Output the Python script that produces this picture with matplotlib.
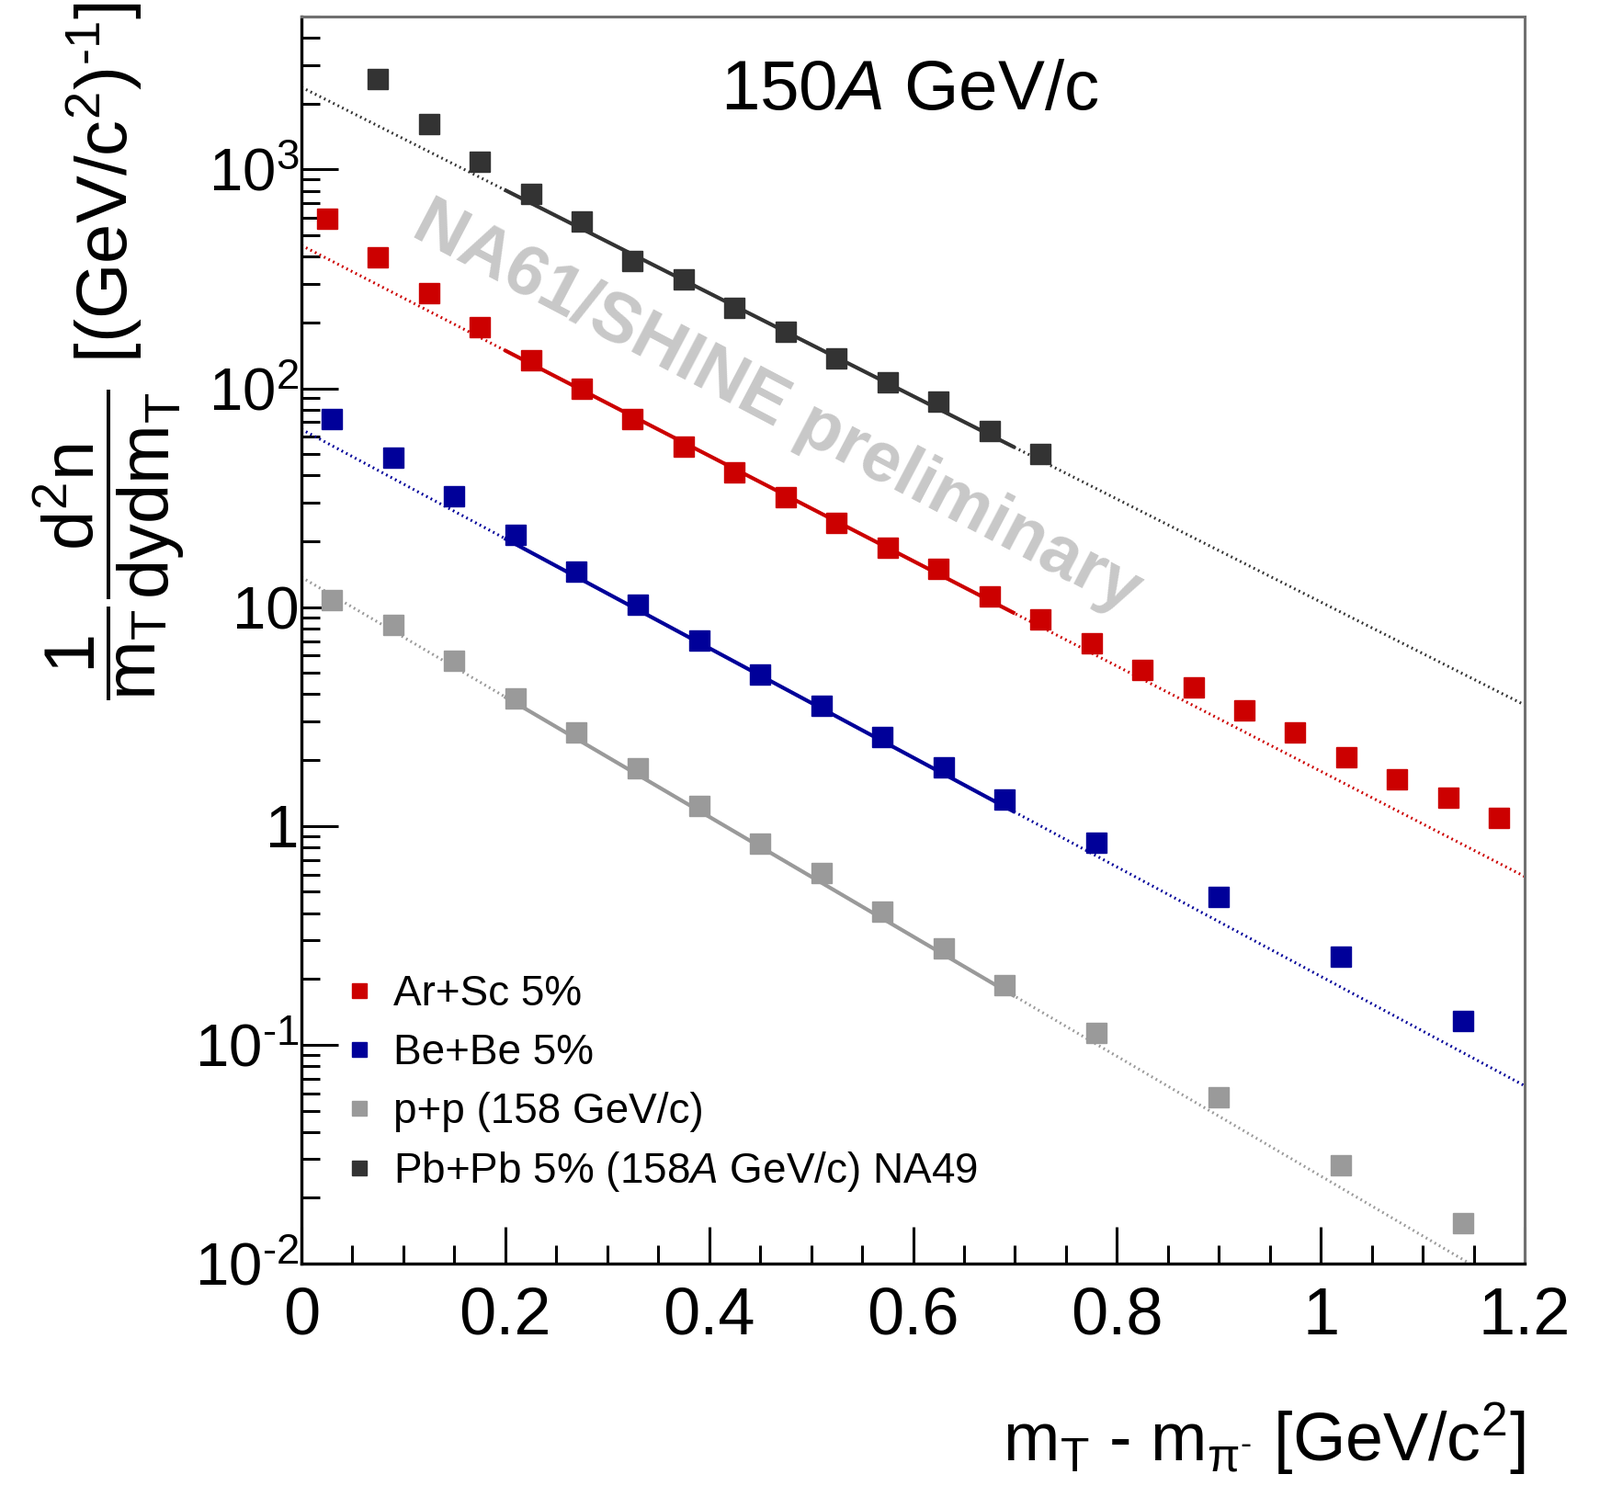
import numpy as np
import matplotlib
matplotlib.use('Agg')
import matplotlib.pyplot as plt
from matplotlib.ticker import FixedLocator, LogLocator, MultipleLocator, NullFormatter, FixedFormatter

plt.rcParams['font.family'] = ['Liberation Sans', 'DejaVu Sans']
plt.rcParams['mathtext.fontset'] = 'custom'
plt.rcParams['mathtext.rm'] = 'Liberation Sans'
plt.rcParams['mathtext.it'] = 'Liberation Sans:italic'
plt.rcParams['mathtext.bf'] = 'Liberation Sans:bold'

# m_T - m_pi spectra
x_arsc = [0.025, 0.075, 0.125, 0.175, 0.225, 0.275, 0.325, 0.375, 0.425, 0.475, 0.525, 0.575,
          0.625, 0.675, 0.725, 0.775, 0.825, 0.875, 0.925, 0.975, 1.025, 1.075, 1.125, 1.175]
y_arsc = [596, 396, 272, 191, 135, 100, 72.5, 54.2, 41.4, 31.7, 24.2, 18.7,
          14.9, 11.2, 8.82, 6.81, 5.15, 4.30, 3.36, 2.68, 2.07, 1.63, 1.35, 1.09]

x_bebe = [0.03, 0.09, 0.15, 0.21, 0.27, 0.33, 0.39, 0.45, 0.51, 0.57, 0.63, 0.69, 0.78, 0.90, 1.02, 1.14]
y_bebe = [72.5, 48.2, 32.1, 21.5, 14.6, 10.3, 7.04, 4.94, 3.54, 2.56, 1.86, 1.32, 0.839, 0.475, 0.252, 0.128]

x_pp = [0.03, 0.09, 0.15, 0.21, 0.27, 0.33, 0.39, 0.45, 0.51, 0.57, 0.63, 0.69, 0.78, 0.90, 1.02, 1.14]
y_pp = [10.8, 8.27, 5.67, 3.81, 2.67, 1.84, 1.23, 0.830, 0.608, 0.405, 0.275, 0.187, 0.113, 0.0573, 0.0282, 0.0153]

x_pbpb = [0.075, 0.125, 0.175, 0.225, 0.275, 0.325, 0.375, 0.425, 0.475, 0.525, 0.575, 0.625, 0.675, 0.725]
y_pbpb = [2594, 1618, 1086, 771, 577, 383, 316, 234, 181, 137, 107, 87, 64, 50]

labels = ['Ar+Sc 5%', 'Be+Be 5%', 'p+p (158 GeV/c)', r'Pb+Pb 5% (158$\mathit{A}$ GeV/c) NA49']
colors = ['#cc0000', '#000099', '#9a9a9a', '#333333']

# exponential fits A*exp(-(mT-m)/T)
fit_A = [450, 65, 13.7, 2377]
fit_T = [0.1807, 0.1737, 0.1587, 0.1846]
fit_lo, fit_hi = 0.2, 0.7

xs = [x_arsc, x_bebe, x_pp, x_pbpb]
ys = [y_arsc, y_bebe, y_pp, y_pbpb]

fig = plt.figure(figsize=(17.41, 16.29), dpi=100)
ax = fig.add_axes([328/1741, 1 - 1375/1629, 1331/1741, 1357/1629])

xx = np.linspace(0, 1.2, 300)
handles = []
for x, y, c, lab, A, T in zip(xs, ys, colors, labels, fit_A, fit_T):
    ax.plot(xx, A * np.exp(-xx / T), color=c, lw=2.2, ls=(0, (0.6, 1.2)), zorder=2)
    xs_fit = xx[(xx >= fit_lo) & (xx <= fit_hi)]
    ax.plot(xs_fit, A * np.exp(-xs_fit / T), color=c, lw=3, zorder=3)
    h, = ax.plot(x, y, ls='none', marker='s', ms=16, color=c, mec=c, zorder=4, label=lab)
    handles.append(h)

ax.set_yscale('log')
ax.set_xlim(0, 1.2)
ax.set_ylim(0.01, 5000)

ax.xaxis.set_major_locator(FixedLocator([0, 0.2, 0.4, 0.6, 0.8, 1.0, 1.2]))
ax.xaxis.set_major_formatter(FixedFormatter(['0', '0.2', '0.4', '0.6', '0.8', '1', '1.2']))
ax.xaxis.set_minor_locator(MultipleLocator(0.05))

hy = '\u2010'
ydec = [0.01, 0.1, 1, 10, 100, 1000]
ylab = [r'$\mathregular{10^{' + hy + '2}}$', r'$\mathregular{10^{' + hy + '1}}$', '1', '10',
        r'$\mathregular{10^{2}}$', r'$\mathregular{10^{3}}$']
ax.yaxis.set_major_locator(FixedLocator(ydec))
ax.yaxis.set_major_formatter(FixedFormatter(ylab))
ax.yaxis.set_minor_locator(LogLocator(base=10, subs=np.arange(2, 10), numticks=20))
ax.yaxis.set_minor_formatter(NullFormatter())

ax.tick_params(which='both', direction='in', top=False, right=False, width=2.2, color='black')
ax.tick_params(which='major', length=29)
ax.tick_params(which='minor', length=14.5)
ax.tick_params(axis='x', labelsize=52, pad=18)
ax.tick_params(axis='y', labelsize=47, pad=2)

for s in ['left', 'bottom']:
    ax.spines[s].set_linewidth(2.4)
    ax.spines[s].set_color('black')
for s in ['top', 'right']:
    ax.spines[s].set_linewidth(2.2)
    ax.spines[s].set_color('#707070')

ax.text(0.497, 0.94, r'150$\mathit{A}$ GeV/c', transform=ax.transAxes, ha='center', va='center', fontsize=55)
ax.text(0.389, 0.686, 'NA61/SHINE preliminary', transform=ax.transAxes, ha='center', va='center',
        rotation=-27.7, rotation_mode='anchor', fontsize=55, fontweight='bold', color='#c8c8c8', zorder=1)

leg = ax.legend(handles=handles, loc='upper left', bbox_to_anchor=(0.037, 0.232), frameon=False,
                fontsize=33, markerscale=0.7, handlelength=0.6, handletextpad=0.5,
                borderpad=0, borderaxespad=0, labelspacing=0.43)

fig.text(1659/1741, 1 - 1566/1629,
         r'm$_{\mathregular{T}}$ - m$_{\mathregular{\pi^{' + hy + '}}}$ [GeV/c$^{\mathregular{2}}$]',
         ha='right', va='center', fontsize=53)
fig.text(118/1741, 1 - 2/1629,
         r'$\dfrac{\mathregular{1}}{\mathregular{m_{T}}}\dfrac{\mathregular{d^{2}n}}{\mathregular{dydm_{T}}}$ [(GeV/c$^{\mathregular{2}}$)$^{\mathregular{' + hy + '1}}$]',
         rotation=90, ha='center', va='top', fontsize=56)

fig.savefig('out.png', dpi=100)
